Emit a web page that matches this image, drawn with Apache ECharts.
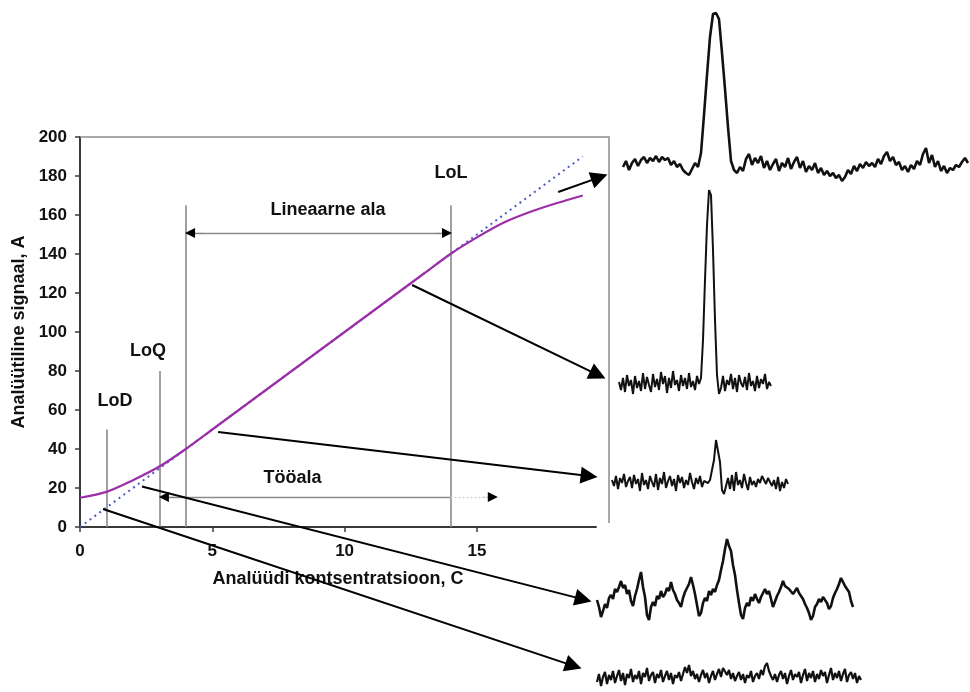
<!DOCTYPE html>
<html>
<head>
<meta charset="utf-8">
<script src="https://cdn.jsdelivr.net/npm/echarts@6/dist/echarts.min.js"></script>
<style>
  html, body { margin: 0; padding: 0; background: #fff; }
  #chart { width: 970px; height: 692px; }
</style>
</head>
<body>
<div id="chart"></div>
<script>
// kalibreerimiskõver
const conc = [0, 1, 2, 3, 4, 5, 6, 7, 8, 9, 10, 11, 12, 13, 14, 15, 16, 17, 18, 19]
const signal = [15, 18, 24, 31, 40, 50, 60, 70, 80, 90, 100, 110, 120, 130, 140, 148.5, 156, 161.5, 166, 170]
const trendX = [0, 19]
const trendY = [0, 190]
const xTicks = [0, 5, 10, 15]

// piirjooned: LoD, LoQ, lineaarse ala algus, LoL
const limitX = [1, 3, 4, 14]
const limitTop = [50, 80, 165, 165]

// tekstid ja nende asukohad (andmeühikutes)
const labelNames = ['LoD', 'LoQ', 'LoL', 'Lineaarne ala', 'Tööala']
const labelX = [1.32, 2.57, 14.02, 9.37, 8.03]
const labelY = [64.6, 90.3, 181.3, 162.6, 24.9]

// nooled kõveralt spektriteni
const arrowFrom = [[18.07, 171.8], [12.55, 124.1], [5.22, 48.7], [2.34, 20.8], [0.87, 9.2]]
const arrowTo = [[19.63, 179.3], [19.57, 78.0], [19.24, 26.1], [19.02, -37.1], [18.65, -71.2]]

// spektrid (signaali kõrgus)
const spec1 = [18, 24, 15, 22, 26, 19, 25, 28, 22, 27, 24, 29, 23, 28, 25, 27, 20, 24, 18, 21, 15, 12, 10, 16, 22, 18,
  32, 70, 110, 148, 171, 172, 166, 132, 96, 58, 24, 15,
  12, 18, 14, 26, 31, 20, 27, 22, 29, 17, 24, 15, 21, 26, 14, 22, 18, 27, 16, 23, 28, 17, 24, 13, 19, 15, 22, 12,
  17, 10, 14, 9, 12, 7, 10, 4, 8, 15, 11, 19, 14, 21, 17, 23, 19, 22, 18, 26, 21, 29, 33, 24, 28, 20, 23, 15, 19,
  13, 20, 16, 24, 20, 31, 37, 22, 30, 18, 24, 14, 19, 12, 17, 15, 20, 18, 23, 27, 22]
const spec2 = [18, 10, 22, 8, 25, 14, 20, 6, 24, 12, 19, 9, 27, 11, 23, 15, 8, 26, 13, 21, 10, 28, 16, 24, 7, 22, 12, 29,
  15, 20, 9, 25, 14, 22, 11, 27, 13, 19, 10, 24, 16,
  22, 60, 120, 175, 210, 205, 150, 80, 25, 6,
  12, 24, 9, 20, 15, 26, 11, 22, 8, 25, 17, 13, 23, 10, 27, 14, 19, 9, 24, 12, 21, 16, 26, 11, 18, 14]
const spec3 = [20, 14, 24, 11, 22, 17, 26, 13, 19, 23, 12, 25, 16, 21, 9, 27, 15, 20, 11, 24, 18, 13, 26, 10, 22, 16,
  28, 12, 19, 24, 14, 21, 9, 25, 17, 23, 12, 20, 15, 27, 18, 11, 22, 16, 24, 13, 19, 21, 17, 20,
  20, 40, 60, 60, 38, 10,
  6, 14, 22, 11, 25, 9, 28, 15, 20, 12, 26, 17, 10, 23, 15, 19, 13, 21, 17, 24, 20, 16, 22, 18, 14, 20, 11, 23, 9,
  18, 12, 21, 16]
const spec4 = [25, 18, 8, 14, 21, 17, 27, 30, 26, 36, 33, 38, 44, 37, 40, 31, 35, 24, 19, 29, 36, 45, 53, 38, 28, 10,
  5, 18, 23, 19, 29, 26, 34, 28, 31, 37, 34, 43, 35, 31, 25, 22, 18, 27, 33, 31, 41, 48, 40, 31, 20, 9, 12, 22, 27,
  24, 34, 30, 36, 33, 40, 45, 55, 64, 76, 86, 79, 74, 60, 50, 35, 22, 10, 6, 17, 22, 19, 28, 24, 31, 26, 22, 28, 32,
  36, 31, 34, 26, 18, 20, 29, 33, 38, 44, 39, 41, 36, 38, 31, 34, 37, 32, 29, 26, 21, 17, 12, 5, 9, 18, 21, 26, 23,
  28, 25, 22, 16, 19, 27, 32, 36, 41, 47, 43, 39, 41, 33, 24, 18]
const spec5 = [10, 18, 6, 15, 20, 8, 17, 12, 21, 9, 16, 22, 11, 19, 7, 18, 14, 23, 10, 17, 13, 21, 8, 19, 15, 24, 11,
  17, 20, 9, 18, 14, 22, 10, 16, 21, 12, 19, 8, 17, 14, 20, 11, 18, 25, 19, 27, 16, 21, 13, 18, 10, 17, 22, 14, 19,
  9, 16, 21, 12, 18, 23, 15, 24, 26, 17, 22, 13, 19, 11, 16, 20, 12, 18, 9, 17, 14, 21, 10, 16, 19, 13, 22, 17, 26,
  29, 21, 16, 12, 18, 10, 17, 21, 13, 19, 8, 16, 22, 12, 18, 15, 20, 9, 17, 23, 11, 19, 14, 21, 10, 18, 13, 22, 16,
  20, 9, 17, 24, 12, 19, 14, 21, 11, 18, 23, 10, 17, 20, 13, 19, 9, 16, 12]

const spectra = [spec1, spec2, spec3, spec4, spec5]
// iga spektri paneel: [left, top, width, height]
const specBoxes = [[623, 10, 345, 175], [619, 185, 152, 215], [612, 432, 176, 68], [597, 535, 256, 90], [597, 660, 264, 32]]
const specWidth = [2.6, 2, 2, 2.6, 2.2]

const font = 'Liberation Sans, Arial, sans-serif'
const axisColor = '#3a3a3a'

function chartInit() {
  let myChart = echarts.init(document.getElementById('chart'))

  let grids = [{ left: 80, top: 137, width: 516, height: 390 }]
  let xAxes = [{
    type: 'value', gridIndex: 0, min: 0, max: 19.5, interval: 5,
    name: 'Analüüdi kontsentratsioon, C', nameLocation: 'middle', nameGap: 43,
    nameTextStyle: { fontFamily: font, fontWeight: 'bold', fontSize: 18, color: '#111' },
    axisLine: { lineStyle: { color: axisColor, width: 2 } },
    axisTick: { show: true, length: 5, customValues: xTicks, lineStyle: { color: axisColor, width: 1.5 } },
    axisLabel: { customValues: xTicks, margin: 16, fontFamily: font, fontWeight: 'bold', fontSize: 17, color: '#111' },
    splitLine: { show: false }
  }]
  let yAxes = [{
    type: 'value', gridIndex: 0, min: 0, max: 200, interval: 20,
    name: 'Analüütiline signaal, A', nameLocation: 'middle', nameGap: 52,
    nameTextStyle: { fontFamily: font, fontWeight: 'bold', fontSize: 18, color: '#111' },
    axisLine: { show: true, lineStyle: { color: axisColor, width: 2 } },
    axisTick: { show: true, length: 5, lineStyle: { color: axisColor, width: 1.5 } },
    axisLabel: { margin: 13, fontFamily: font, fontWeight: 'bold', fontSize: 17, color: '#111' },
    splitLine: { show: false }
  }]

  let series = [
    {
      type: 'line', xAxisIndex: 0, yAxisIndex: 0, symbol: 'none', z: 3,
      data: trendX.map((x, i) => [x, trendY[i]]),
      lineStyle: { color: '#4b5cc4', width: 2, type: [2, 4] }
    },
    {
      type: 'line', xAxisIndex: 0, yAxisIndex: 0, symbol: 'none', smooth: 0.3, z: 4,
      data: conc.map((x, i) => [x, signal[i]]),
      lineStyle: { color: '#9c2fa8', width: 2.2 }
    },
    {
      // vertikaalsed piirjooned
      type: 'lines', coordinateSystem: 'cartesian2d', xAxisIndex: 0, yAxisIndex: 0, z: 2,
      data: limitX.map((x, i) => ({ coords: [[x, 0], [x, limitTop[i]]] })),
      lineStyle: { color: '#8a8a8a', width: 1.6, opacity: 1 }
    },
    {
      // lineaarne ala ja tööala
      type: 'lines', coordinateSystem: 'cartesian2d', xAxisIndex: 0, yAxisIndex: 0, z: 2,
      data: [
        { coords: [[4, 150.8], [14, 150.8]] },
        { coords: [[3.1, 15.4], [14, 15.4]] }
      ],
      lineStyle: { color: '#8a8a8a', width: 1.4, opacity: 1 }
    },
    {
      type: 'lines', coordinateSystem: 'cartesian2d', xAxisIndex: 0, yAxisIndex: 0, z: 2,
      data: [{ coords: [[14, 15.4], [15.5, 15.4]] }],
      lineStyle: { color: '#d0d0d0', width: 1.4, type: [2, 2], opacity: 1 }
    },
    {
      // väikesed noolepead
      type: 'lines', coordinateSystem: 'cartesian2d', xAxisIndex: 0, yAxisIndex: 0, z: 5,
      symbol: ['none', 'triangle'], symbolSize: [9, 10],
      data: [
        { coords: [[4.6, 150.8], [4.16, 150.8]] },
        { coords: [[13.4, 150.8], [13.87, 150.8]] },
        { coords: [[3.6, 15.4], [3.17, 15.4]] },
        { coords: [[15.2, 15.4], [15.6, 15.4]] }
      ],
      lineStyle: { color: '#000', width: 0.1, opacity: 1 }
    },
    {
      // nooled spektriteni
      type: 'lines', coordinateSystem: 'cartesian2d', xAxisIndex: 0, yAxisIndex: 0, z: 6, clip: false,
      symbol: ['none', 'triangle'], symbolSize: [14, 17],
      data: arrowFrom.map((p, i) => ({ coords: [p, arrowTo[i]] })),
      lineStyle: { color: '#000', width: 2, opacity: 1 }
    },
    {
      type: 'scatter', xAxisIndex: 0, yAxisIndex: 0, symbolSize: 0, z: 7,
      data: labelNames.map((n, i) => ({ name: n, value: [labelX[i], labelY[i]] })),
      itemStyle: { color: 'transparent', opacity: 1 },
      label: {
        show: true, position: 'inside', formatter: '{b}', opacity: 1,
        fontFamily: font, fontWeight: 'bold', fontSize: 18, color: '#111',
        textBorderWidth: 0, textBorderColor: 'transparent'
      }
    }
  ]

  spectra.forEach((s, k) => {
    let b = specBoxes[k]
    let gi = k + 1
    grids.push({ left: b[0], top: b[1], width: b[2], height: b[3] })
    xAxes.push({ type: 'value', gridIndex: gi, min: 0, max: s.length - 1, show: false })
    yAxes.push({ type: 'value', gridIndex: gi, min: 0, max: b[3], show: false })
    series.push({
      type: 'line', xAxisIndex: gi, yAxisIndex: gi, symbol: 'none',
      data: s.map((v, i) => [i, v]),
      lineStyle: { color: '#111', width: specWidth[k] }
    })
  })

  let options = {
    animation: false,
    backgroundColor: '#fff',
    grid: grids,
    xAxis: xAxes,
    yAxis: yAxes,
    series: series,
    graphic: [{
      // joonise ala ülemine ja parem serv
      type: 'polyline', z: 1,
      shape: { points: [[80, 137], [609, 137], [609, 523]] },
      style: { stroke: '#8c8c8c', lineWidth: 1.5, fill: null }
    }]
  }
  myChart.setOption(options)
}

chartInit()
</script>
</body>
</html>
